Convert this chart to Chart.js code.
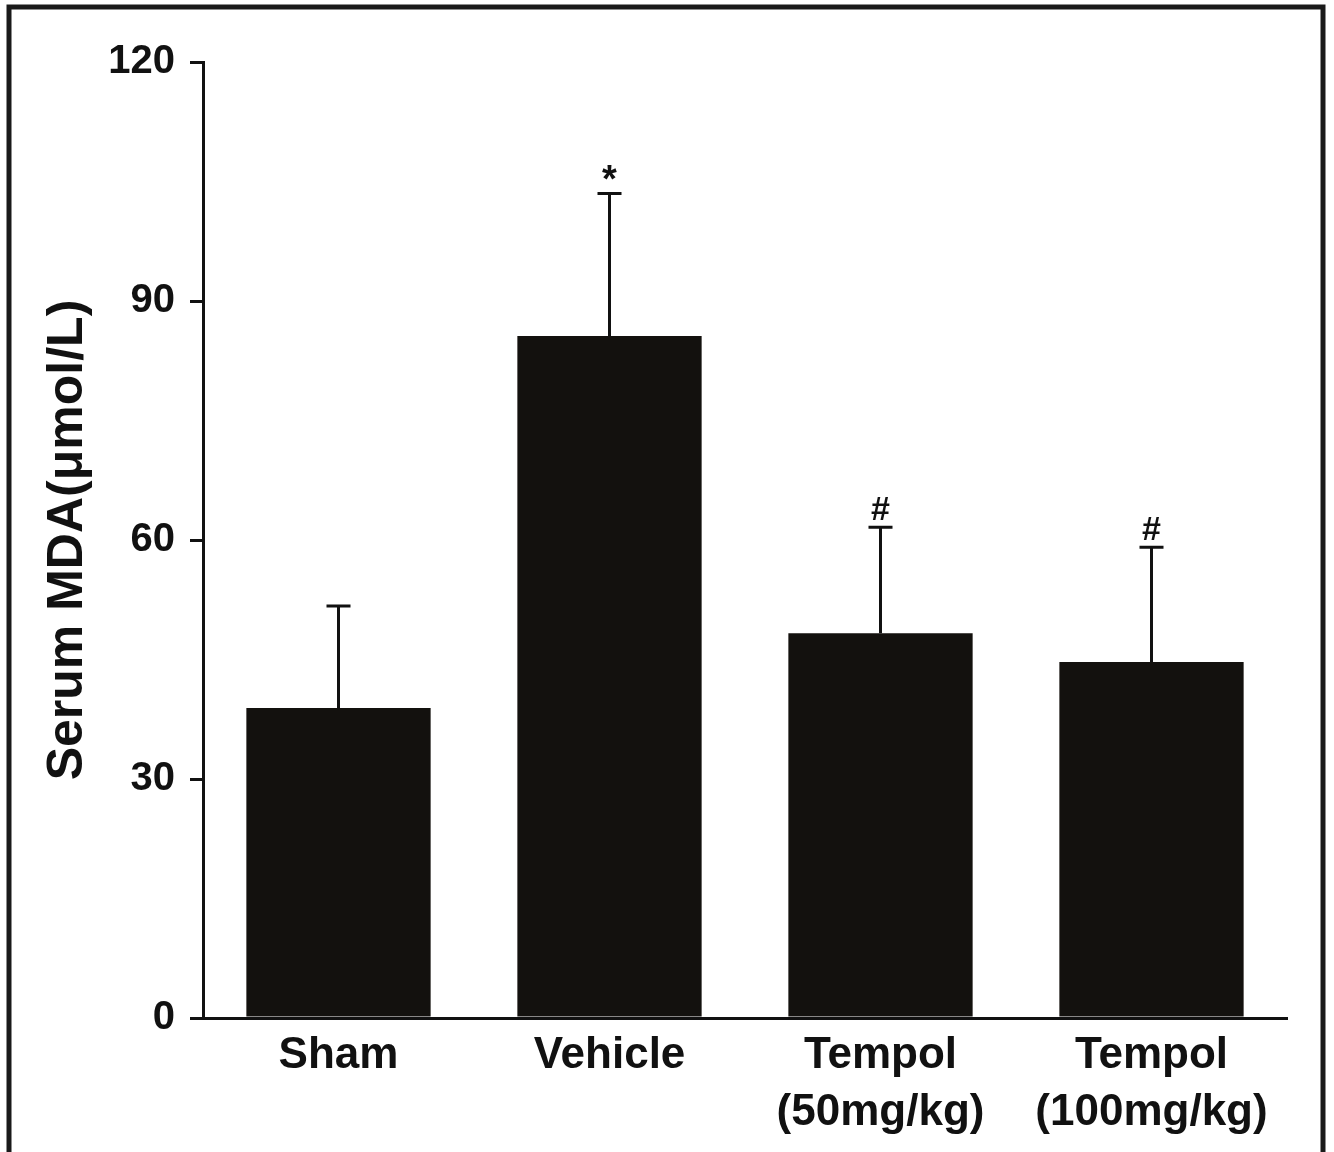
<!DOCTYPE html>
<html>
<head>
<meta charset="utf-8">
<script src="https://cdn.jsdelivr.net/npm/chart.js@4.4.0/dist/chart.umd.min.js"></script>
<style>
  html, body { margin: 0; padding: 0; background: #fff; }
  #wrap { width: 1334px; height: 1152px; position: relative; }
</style>
</head>
<body>
<div id="wrap"><canvas id="mdaChart" width="1334" height="1152"></canvas></div>
<script>
// values
const groups = [['Sham'], ['Vehicle'], ['Tempol', '(50mg/kg)'], ['Tempol', '(100mg/kg)']];
const meanMDA = [38.9, 85.6, 48.3, 44.7];
const sdMDA = [12.8, 17.9, 13.3, 14.4];
const marks = ['', '*', '#', '#'];
const yTicks = [0, 30, 60, 90, 120];

const ink = '#111';
const barFill = '#13110e';
const font = 'Liberation Sans, Arial, sans-serif';

// upper error bars plus the significance marks
const errorBars = {
    id: 'errorBars',
    afterDatasetsDraw(chart) {
        const ctx = chart.ctx;
        const yScale = chart.scales.y;
        const meta = chart.getDatasetMeta(0);
        ctx.save();
        ctx.strokeStyle = ink;
        ctx.lineWidth = 3;
        meta.data.forEach((bar, i) => {
            const top = yScale.getPixelForValue(meanMDA[i] + sdMDA[i]);
            const base = yScale.getPixelForValue(meanMDA[i]);
            ctx.beginPath();
            ctx.moveTo(bar.x, base);
            ctx.lineTo(bar.x, top);
            ctx.moveTo(bar.x - 12, top);
            ctx.lineTo(bar.x + 12, top);
            ctx.stroke();
            if (marks[i]) {
                ctx.fillStyle = ink;
                ctx.textAlign = 'center';
                ctx.textBaseline = 'bottom';
                if (marks[i] === '*') {
                    ctx.font = 'bold 38px ' + font;
                    ctx.fillText(marks[i], bar.x, top + 7);
                } else {
                    ctx.font = 'bold 34px ' + font;
                    ctx.fillText(marks[i], bar.x, top);
                }
            }
        });
        ctx.restore();
    }
};

// frame round the whole figure
const frame = {
    id: 'frame',
    afterDraw(chart) {
        const ctx = chart.ctx;
        ctx.save();
        ctx.strokeStyle = '#1a1a1a';
        ctx.lineWidth = 5;
        ctx.strokeRect(9, 7, 1314, 1150);
        ctx.restore();
    }
};

new Chart(document.getElementById('mdaChart'), {
    type: 'bar',
    data: {
        labels: groups,
        datasets: [{
            data: meanMDA,
            backgroundColor: barFill,
            borderWidth: 0,
            barPercentage: 0.68,
            categoryPercentage: 1
        }]
    },
    options: {
        responsive: false,
        animation: false,
        layout: { padding: { top: 62, right: 47, left: 0, bottom: 0 } },
        plugins: {
            legend: { display: false },
            tooltip: { enabled: false }
        },
        scales: {
            x: {
                grid: { display: false },
                border: { display: true, color: ink, width: 3 },
                ticks: {
                    color: ink,
                    padding: 1,
                    font: { family: font, size: 44, weight: 'bold', lineHeight: 1.3 }
                },
                afterFit(scale) { scale.height = 134; }
            },
            y: {
                min: 0,
                max: 120,
                afterBuildTicks(scale) { scale.ticks = yTicks.map(v => ({ value: v })); },
                grid: {
                    display: true,
                    drawOnChartArea: false,
                    drawTicks: true,
                    tickLength: 13,
                    color: ink,
                    lineWidth: 3
                },
                border: { display: true, color: ink, width: 3 },
                ticks: {
                    color: ink,
                    padding: 15,
                    font: { family: font, size: 40, weight: 'bold' }
                },
                title: {
                    display: true,
                    text: 'Serum MDA(μmol/L)',
                    color: ink,
                    padding: { top: 38, bottom: 0 },
                    font: { family: font, size: 50, weight: 'bold' }
                },
                afterFit(scale) { scale.width = 203; }
            }
        }
    },
    plugins: [errorBars, frame]
});
</script>
</body>
</html>
